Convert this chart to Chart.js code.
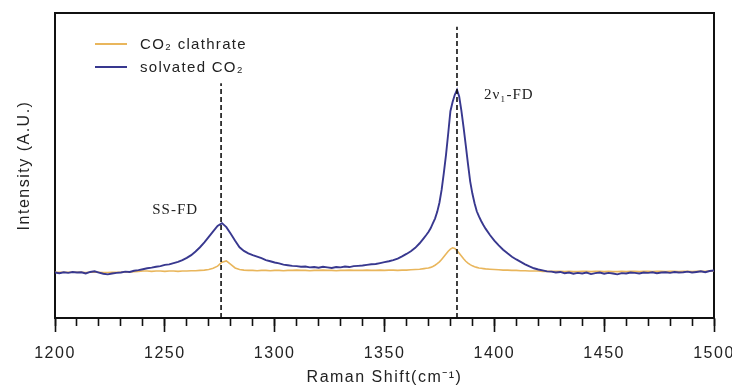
<!DOCTYPE html>
<html><head><meta charset="utf-8">
<script src="https://cdn.jsdelivr.net/npm/chart.js@4.4.1/dist/chart.umd.min.js"></script>
<style>
html,body{margin:0;padding:0;background:#fff;}
#wrap{position:relative;width:732px;height:388px;}
#legend{position:absolute;left:95px;top:32px;font-family:"Liberation Sans",Arial,sans-serif;font-size:15px;letter-spacing:1.3px;color:#222;}
.item{display:flex;align-items:center;height:23px;white-space:nowrap;}
.swatch{width:32px;height:2px;margin-right:13px;}
</style></head><body>
<div id="wrap"><canvas id="c" width="732" height="388"></canvas><div id="legend"></div></div>
<script>
const seriesNames = ['CO₂ clathrate', 'solvated CO₂'];
const xTickLabels = ['1200','1250','1300','1350','1400','1450','1500'];
const xTitle = 'Raman Shift(cm⁻¹)';
const yTitle = 'Intensity (A.U.)';

const shifts = [
 1200,1202,1204,1206,1208,1210,1212,1214,1216,1218,
 1220,1222,1224,1226,1228,1230,1232,1234,1236,1238,
 1240,1242,1244,1246,1248,1250,1252,1254,1256,1258,
 1260,1262,1264,1266,1268,1270,1272,1274,1276,1278,
 1280,1282,1284,1286,1288,1290,1292,1294,1296,1298,
 1300,1302,1304,1306,1308,1310,1312,1314,1316,1318,
 1320,1322,1324,1326,1328,1330,1332,1334,1336,1338,
 1340,1342,1344,1346,1348,1350,1352,1354,1356,1358,
 1360,1362,1364,1366,1368,
 1369,1370,1371,1372,1373,1374,1375,1376,1377,1378,
 1379,1380,1381,1382,1383,1384,1385,1386,1387,1388,
 1389,1390,1391,1392,1393,1394,1395,1396,
 1398,1400,1402,1404,1406,1408,1410,1412,1414,1416,
 1418,1420,1422,1424,1426,1428,1430,1432,1434,1436,
 1438,1440,1442,1444,1446,1448,1450,1452,1454,1456,
 1458,1460,1462,1464,1466,1468,1470,1472,1474,1476,
 1478,1480,1482,1484,1486,1488,1490,1492,1494,1496,
 1498,1500
];

const solvated = [
 14.9,14.7,15.0,14.8,15.1,14.9,15.0,14.6,15.1,15.3,
 14.9,14.5,14.3,14.6,14.8,14.9,15.2,15.1,15.5,15.7,
 16.0,16.3,16.5,16.8,17.0,17.4,17.6,18.0,18.4,19.0,
 19.7,20.6,21.8,23.2,24.8,26.6,28.4,30.2,31.1,29.8,
 27.6,25.3,23.2,22.0,21.2,20.6,20.1,19.6,19.0,18.6,
 18.2,17.9,17.5,17.3,17.1,17.0,16.8,16.9,16.6,16.7,
 16.5,16.8,16.6,16.4,16.7,16.6,16.9,16.7,17.0,17.1,
 17.2,17.4,17.6,17.7,18.0,18.3,18.6,19.0,19.5,20.2,
 21.0,21.9,23.0,24.5,26.3,
 27.2,28.2,29.4,31.0,32.6,34.8,37.8,42.0,47.5,53.5,
 60.5,67.8,70.8,73.2,74.8,72.6,68.0,62.5,56.6,50.5,
 44.8,40.8,37.6,35.0,33.3,31.8,30.5,29.3,
 27.2,25.4,23.8,22.4,21.2,20.1,19.2,18.4,17.6,16.9,
 16.3,15.9,15.6,15.3,15.2,14.9,15.1,14.7,14.9,14.5,
 14.8,14.6,14.9,14.4,14.7,14.9,14.5,14.8,14.6,14.3,
 14.7,14.6,14.9,14.8,14.6,14.9,14.8,15.0,14.7,14.9,
 15.0,14.8,15.1,14.9,15.0,15.2,14.9,15.1,15.3,15.0,
 15.4,15.6
];

const clathrate = [
 15.0,15.0,15.0,15.0,15.0,15.0,15.0,14.9,15.0,15.1,
 15.0,14.9,14.9,15.0,15.0,15.0,15.1,15.1,15.2,15.3,
 15.4,15.4,15.3,15.4,15.4,15.3,15.4,15.4,15.3,15.4,
 15.4,15.5,15.5,15.6,15.7,15.9,16.3,17.0,18.3,18.7,
 17.6,16.4,15.9,15.7,15.6,15.6,15.5,15.6,15.6,15.5,
 15.6,15.6,15.5,15.6,15.6,15.7,15.6,15.6,15.5,15.6,
 15.6,15.7,15.6,15.6,15.5,15.6,15.6,15.7,15.6,15.6,
 15.6,15.7,15.6,15.6,15.7,15.6,15.7,15.7,15.6,15.7,
 15.7,15.8,15.9,16.0,16.2,
 16.3,16.4,16.6,16.9,17.3,17.8,18.4,19.2,20.1,21.0,
 21.9,22.6,23.0,22.8,22.1,21.2,20.3,19.4,18.6,18.0,
 17.5,17.1,16.8,16.6,16.4,16.3,16.2,16.1,
 16.0,15.9,15.8,15.7,15.7,15.6,15.6,15.5,15.5,15.4,
 15.4,15.4,15.3,15.3,15.3,15.3,15.3,15.2,15.3,15.2,
 15.2,15.3,15.3,15.2,15.3,15.3,15.2,15.3,15.2,15.2,
 15.3,15.2,15.3,15.3,15.2,15.3,15.3,15.2,15.3,15.3,
 15.2,15.3,15.3,15.2,15.3,15.3,15.2,15.3,15.3,15.3,
 15.4,15.4
];

const peakShifts = [1275.6, 1383];
const peakLineTops = [77.0, 95.5];
const peakNames = ['SS-FD', '2ν₁-FD'];
const peakLabelX = [1254.7, 1395.3];
const peakLabelY = [35.4, 73.1];
const peakLabelAlign = ['center', 'left'];

const sansFamily = '"Liberation Sans", Arial, sans-serif';
const serifFamily = '"Liberation Serif", "Times New Roman", serif';

const spacingPlugin = {
  id: 'spacing',
  beforeLayout(chart) { chart.ctx.letterSpacing = '1.5px'; },
  beforeDraw(chart) { chart.ctx.letterSpacing = '1.5px'; }
};

const peakLabelPlugin = {
  id: 'peakLabels',
  afterDatasetsDraw(chart) {
    const {ctx, scales: {x, y}} = chart;
    ctx.save();
    ctx.letterSpacing = '1px';
    ctx.font = '15px ' + serifFamily;
    ctx.fillStyle = '#222';
    ctx.textBaseline = 'middle';
    peakNames.forEach((t, i) => {
      ctx.textAlign = peakLabelAlign[i];
      ctx.fillText(t, x.getPixelForValue(peakLabelX[i]), y.getPixelForValue(peakLabelY[i]));
    });
    ctx.restore();
  }
};

const htmlLegendPlugin = {
  id: 'htmlLegend',
  afterUpdate(chart) {
    const box = document.getElementById('legend');
    box.innerHTML = '';
    chart.data.datasets.filter(d => d.label).forEach(d => {
      const row = document.createElement('div');
      row.className = 'item';
      const sw = document.createElement('span');
      sw.className = 'swatch';
      sw.style.background = d.borderColor;
      const tx = document.createElement('span');
      tx.textContent = d.label;
      row.appendChild(sw); row.appendChild(tx);
      box.appendChild(row);
    });
  }
};

const pts = (vals) => shifts.map((s, i) => ({x: s, y: vals[i]}));
const vline = (i) => [{x: peakShifts[i], y: 0}, {x: peakShifts[i], y: peakLineTops[i]}];
const noSidePad = (s) => { s.paddingLeft = 0; s.paddingRight = 0; };

new Chart(document.getElementById('c'), {
  type: 'line',
  data: {
    datasets: [
      {label: seriesNames[0], data: pts(clathrate), borderColor: '#e9b65c', borderWidth: 1.6, pointRadius: 0, order: 3},
      {label: seriesNames[1], data: pts(solvated), borderColor: '#38388f', borderWidth: 1.9, pointRadius: 0, order: 2},
      {data: vline(0), borderColor: '#111', borderWidth: 1.6, borderDash: [5, 3], pointRadius: 0, order: 1},
      {data: vline(1), borderColor: '#111', borderWidth: 1.6, borderDash: [5, 3], pointRadius: 0, order: 1}
    ]
  },
  options: {
    responsive: false,
    animation: false,
    devicePixelRatio: 1,
    layout: {padding: {top: 13, right: 18, left: 0, bottom: 0}},
    plugins: {legend: {display: false}, tooltip: {enabled: false}},
    scales: {
      x: {
        type: 'linear', position: 'bottom', weight: 1, min: 1200, max: 1500,
        afterFit(s) { s.height = 70; noSidePad(s); },
        ticks: {stepSize: 50, padding: 12, color: '#222', maxRotation: 0, autoSkip: false,
          font: {family: sansFamily, size: 16},
          callback: (v, i) => xTickLabels[i] !== undefined ? xTickLabels[i] : ''},
        grid: {display: true, drawOnChartArea: false, drawTicks: true, tickLength: 14, tickColor: '#111', tickWidth: 1.6},
        border: {display: true, color: '#111', width: 2},
        title: {display: true, text: xTitle, color: '#222', font: {family: sansFamily, size: 16}, padding: {top: 0, bottom: 1}}
      },
      xMinor: {
        type: 'linear', position: 'bottom', weight: 0, min: 1200, max: 1500,
        afterFit(s) { s.height = 0; noSidePad(s); },
        ticks: {stepSize: 10, display: false, autoSkip: false},
        grid: {display: true, drawOnChartArea: false, drawTicks: true, tickLength: 8, tickColor: '#111', tickWidth: 1.6},
        border: {display: false}
      },
      xTop: {
        type: 'linear', position: 'top', min: 0, max: 1,
        afterFit(s) { s.height = 0; noSidePad(s); },
        ticks: {display: false}, grid: {display: false},
        border: {display: true, color: '#111', width: 2}
      },
      y: {
        type: 'linear', position: 'left', min: 0, max: 100,
        afterFit(s) { s.width = 55; },
        ticks: {display: false}, grid: {display: false},
        border: {display: true, color: '#111', width: 2},
        title: {display: true, text: yTitle, color: '#222', font: {family: sansFamily, size: 16}, padding: {top: 15, bottom: 0}}
      },
      yRight: {
        type: 'linear', position: 'right', min: 0, max: 1,
        afterFit(s) { s.width = 0; },
        ticks: {display: false}, grid: {display: false},
        border: {display: true, color: '#111', width: 2}
      }
    }
  },
  plugins: [spacingPlugin, peakLabelPlugin, htmlLegendPlugin]
});
</script>
</body></html>
